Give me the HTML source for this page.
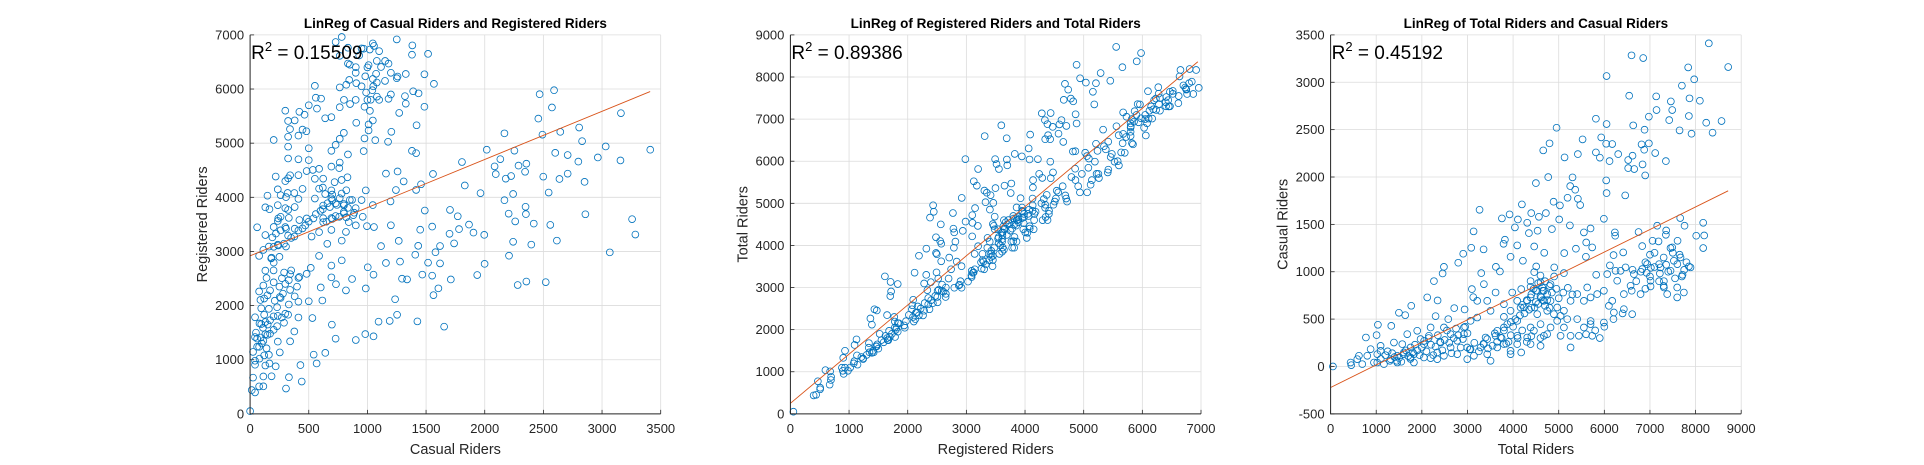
<!DOCTYPE html>
<html><head><meta charset="utf-8"><title>LinReg Riders</title>
<style>
html,body{margin:0;padding:0;background:#fff;}
svg{display:block;font-family:"Liberation Sans",Arial,sans-serif;}
</style></head>
<body>
<svg id="fig" width="1924" height="465" viewBox="0 0 1924 465" xmlns="http://www.w3.org/2000/svg">
<rect width="1924" height="465" fill="#fff"/>
</svg>
<script>
// Daily total riders and casual riders
const totalRiders = [8290,6596,6852,8715,7838,6049,7970,7700,6545,7137,7867,8094,7458,7488,7144,6976,7853,7422,5815,6049,6633,8233,8569,7649,6881,7911,8372,4953,5523,5932,4799,4661,6041,6173,6816,6976,6874,5128,5420,5815,5902,6304,7115,7349,6114,6523,6618,6838,6523,6655,6896,4500,4770,5303,5252,5362,6041,6049,6458,5194,5420,4887,5026,5471,4193,3265,3755,3923,4105,4398,4566,4719,5011,5245,5990,4310,4040,4347,4851,4537,3134,5698,5552,6238,6231,6750,7159,7356,7663,7758,8167,8014,8189,8167,3821,3791,4091,4463,5603,5734,3083,3353,3945,2907,4215,4683,5121,5377,5596,6202,6414,6830,7057,7188,7349,7488,7605,2798,2484,2265,2455,3623,3711,3302,4463,4507,4902,5114,5822,6122,6246,6465,6618,6830,7020,7356,7451,7853,7714,7217,6925,2118,2345,2710,1768,1636,1498,774,1037,1330,1008,2301,2579,3097,3127,2937,3360,3616,3433,3214,3799,3981,4178,4383,4602,4617,4471,4164,4091,3799,3616,3360,3068,2776,2484,2192,1826,1461,1315,1169,1023,950,694,453,51,621,877,1096,1388,1571,1753,1972,2155,2411,2630,2776,2922,2995,3141,2995,3287,3433,3653,3799,3945,4091,4091,4178,4383,4602,4383,4675,4821,4967,5114,5041,5260,5260,5442,5552,5698,5990,5734,5406,4529,4748,4967,5114,5260,5406,5552,5698,5844,5990,6173,6209,6428,6611,6428,6575,6794,7013,7378,7597,7743,7305,4675,4821,4383,3799,3506,2922,2484,2192,1899,1680,2045,2338,2630,1753,1607,804,1096,1023,438,584,1461,1826,2045,2338,3506,3945,3433,3653,3068,3214,3397,4310,4456,4602,4748,4894,5041,5187,4675,4383,4529,4639,4748,4821,4237,4310,3945,4091,3872,3726,5625,6063,6356,6940,7232,7524,7670,7889,7597,7305,7013,6648,6282,
1100,1200,1300,1400,1500,1600,1700,1800,1900,2000,2100,2200,2300,2400,2500,2600,2700,2800,2900,3000,1250,1350,1450,1550,1650,1750,1850,1950,2050,2150,2250,2350,2450,2550,2650,2750,2850,2950,3050,3150,3250,3350,3450,3550,3650,3750,3850,3950,
4200,4300,4400,4450,4500,4550,4600,4650,4700,4750,4800,4850,4900,4950,5000,4350,4250,4150,4050,3950,4400,4600,4700,4800,5100,5200,5300,4500,4650,4550,
3600,3800,4000,4200,4400,4600,3900,4100,4300,5600,5800,6000,6200,6400,5700,5900,6100,
6700,6800,6900,7000,7100,7200,7300,7400,7500,7600,7700,7800,6600,7100,7300,7450,7550,7650,7750,6900,7000,7200];
const casualRiders = [3411,3284,3256,3161,3157,3066,3031,2964,2858,2851,2830,2805,2798,2707,2707,2637,2644,2601,2615,2559,2545,2573,2591,2492,2499,2457,2468,2520,2397,2418,2355,2281,2351,2348,2344,2355,2288,2207,2242,2260,2204,2242,2253,2168,2168,2179,2225,2133,2094,2084,2017,1936,1999,1996,1904,1866,1964,1830,1806,1781,1770,1739,1700,1704,1711,1654,1563,1605,1552,1619,1580,1619,1552,1489,1559,1517,1468,1408,1450,1433,1426,1457,1415,1380,1415,1419,1486,1436,1567,1486,1517,1380,1383,1250,1338,1295,1278,1267,1309,1257,1253,1236,1158,1190,1116,1200,1197,1243,1158,1176,1204,1271,1327,1320,1390,1257,1327,1095,1052,901,982,1052,1003,986,996,1056,1046,986,968,1067,1010,1046,1021,1028,1042,1074,1010,1056,968,982,989,729,697,616,641,542,567,306,440,429,331,531,500,817,732,602,869,781,693,517,524,781,817,841,887,729,623,623,482,412,324,236,183,130,113,88,130,42,77,25,130,42,25,14,0,113,183,218,253,236,201,289,324,253,341,271,341,201,113,77,201,130,201,236,130,324,236,148,236,218,412,324,412,482,412,324,324,201,324,412,447,464,324,500,552,588,623,588,693,764,693,729,764,799,693,570,605,552,764,852,764,845,764,729,781,901,799,869,729,658,588,412,412,412,377,341,236,148,201,95,148,113,165,42,42,77,113,42,95,77,60,165,289,377,482,693,306,306,377,447,341,552,535,500,693,901,799,834,764,693,623,693,588,693,447,306,834,975,1010,1081,1046,1116,1151,1046,834,834,905,975,905,
80,120,60,100,90,130,110,150,170,200,160,230,210,260,280,250,300,330,290,350,160,140,60,50,170,80,230,120,270,300,120,330,170,380,140,400,200,420,180,250,160,240,190,220,260,300,240,330,
650,700,760,820,680,880,740,800,900,700,850,780,950,820,720,600,560,540,500,470,620,960,640,620,780,830,760,800,700,660,
350,380,420,380,320,300,260,300,260,340,380,420,500,560,480,300,640,
900,1000,1100,950,1050,900,1150,1000,1200,1080,950,1100,800,1200,850,1250,930,1180,1020,820,1180,1080];
const fitIntercept = [2919,250,-222];
const fitSlope = [0.89,1.168,0.2383];
const fitEnd = [3410,6946,8714];
const r2Labels = ["0.15509","0.89386","0.45192"];
const xTicks1 = [0,500,1000,1500,2000,2500,3000,3500];
const yTicks1 = [0,1000,2000,3000,4000,5000,6000,7000];
const xTicks2 = [0,1000,2000,3000,4000,5000,6000,7000];
const yTicks2 = [0,1000,2000,3000,4000,5000,6000,7000,8000,9000];
const xTicks3 = [0,1000,2000,3000,4000,5000,6000,7000,8000,9000];
const yTicks3 = [-500,0,500,1000,1500,2000,2500,3000,3500];
const titles = ["LinReg of Casual Riders and Registered Riders","LinReg of Registered Riders and Total Riders","LinReg of Total Riders and Casual Riders"];
const xLabels = ["Casual Riders","Registered Riders","Total Riders"];
const yLabels = ["Registered Riders","Total Riders","Casual Riders"];

const registeredRiders = totalRiders.map((t,i)=>t-casualRiders[i]);
const NS="http://www.w3.org/2000/svg";
const fig=document.getElementById('fig');
function mk(tag,attrs,parent){const e=document.createElementNS(NS,tag);for(const k in attrs)e.setAttribute(k,attrs[k]);(parent||fig).appendChild(e);return e;}

const panels=[
 {x0:250.1,xs:xTicks1,ys:yTicks1,X:casualRiders,Y:registeredRiders,key:'casual-registered'},
 {x0:790.4,xs:xTicks2,ys:yTicks2,X:registeredRiders,Y:totalRiders,key:'registered-total'},
 {x0:1330.6,xs:xTicks3,ys:yTicks3,X:totalRiders,Y:casualRiders,key:'total-casual'}
];
const W=410.6, axTop=34.9, axBot=413.85;

panels.forEach((p,pi)=>{
  const g=mk('g',{});
  
  
  const xmin=p.xs[0],xmax=p.xs[p.xs.length-1],ymin=p.ys[0],ymax=p.ys[p.ys.length-1];
  const sx=v=>p.x0+(v-xmin)/(xmax-xmin)*W;
  const sy=v=>axBot-(v-ymin)/(ymax-ymin)*(axBot-axTop);
  p.xs.forEach(t=>{
    const l=mk('line',{x1:sx(t),x2:sx(t),y1:axTop,y2:axBot,stroke:'#dcdcdc','stroke-width':0.8},g);
    
    
    const tk=mk('line',{x1:sx(t),x2:sx(t),y1:axBot,y2:axBot-4,stroke:'#262626','stroke-width':0.8},g);
    
    
    const tx=mk('text',{x:sx(t),y:433,'text-anchor':'middle','font-size':13,fill:'#262626'},g);
    tx.textContent=t;
    
    
  });
  p.ys.forEach(t=>{
    const l=mk('line',{x1:p.x0,x2:p.x0+W,y1:sy(t),y2:sy(t),stroke:'#dcdcdc','stroke-width':0.8},g);
    
    
    const tk=mk('line',{x1:p.x0,x2:p.x0+4,y1:sy(t),y2:sy(t),stroke:'#262626','stroke-width':0.8},g);
    
    
    const tx=mk('text',{x:p.x0-6,y:sy(t)+4.5,'text-anchor':'end','font-size':13,fill:'#262626'},g);
    tx.textContent=t;
    
    
  });
  p.X.forEach((v,i)=>{
    const c=mk('circle',{cx:sx(v),cy:sy(p.Y[i]),r:3.4,fill:'none',stroke:'#0072BD','stroke-width':0.8},g);
    
    
  });
  const a=fitIntercept[pi],b=fitSlope[pi],hi=fitEnd[pi];
  const rl=mk('line',{x1:sx(0),y1:sy(a),x2:sx(hi),y2:sy(a+b*hi),stroke:'#D95319','stroke-width':0.9},g);
  
  
  const ax=mk('path',{d:`M${p.x0} ${axTop} V${axBot} H${p.x0+W}`,fill:'none',stroke:'#262626','stroke-width':1},g);
  
  
  const tt=mk('text',{x:p.x0+W/2,y:28,'text-anchor':'middle','font-size':13.5,'font-weight':'bold',fill:'#000'},g);
  tt.textContent=titles[pi];
  
  
  const xl=mk('text',{x:p.x0+W/2,y:454,'text-anchor':'middle','font-size':14.5,fill:'#262626'},g);
  xl.textContent=xLabels[pi];
  
  
  const yl=mk('text',{x:0,y:0,'text-anchor':'middle','font-size':14.5,fill:'#262626',transform:`translate(${p.x0-43},${(axTop+axBot)/2}) rotate(-90)`},g);
  yl.textContent=yLabels[pi];
  
  
  const rt=mk('text',{x:p.x0+1,y:59,'font-size':19,fill:'#000'},g);
  
  
  const t1=mk('tspan',{},rt);t1.textContent='R';
  const t2=mk('tspan',{dy:-8,'font-size':13},rt);t2.textContent='2';
  const t3=mk('tspan',{dy:8},rt);t3.textContent=' = '+r2Labels[pi];
});
</script>
</body></html>
